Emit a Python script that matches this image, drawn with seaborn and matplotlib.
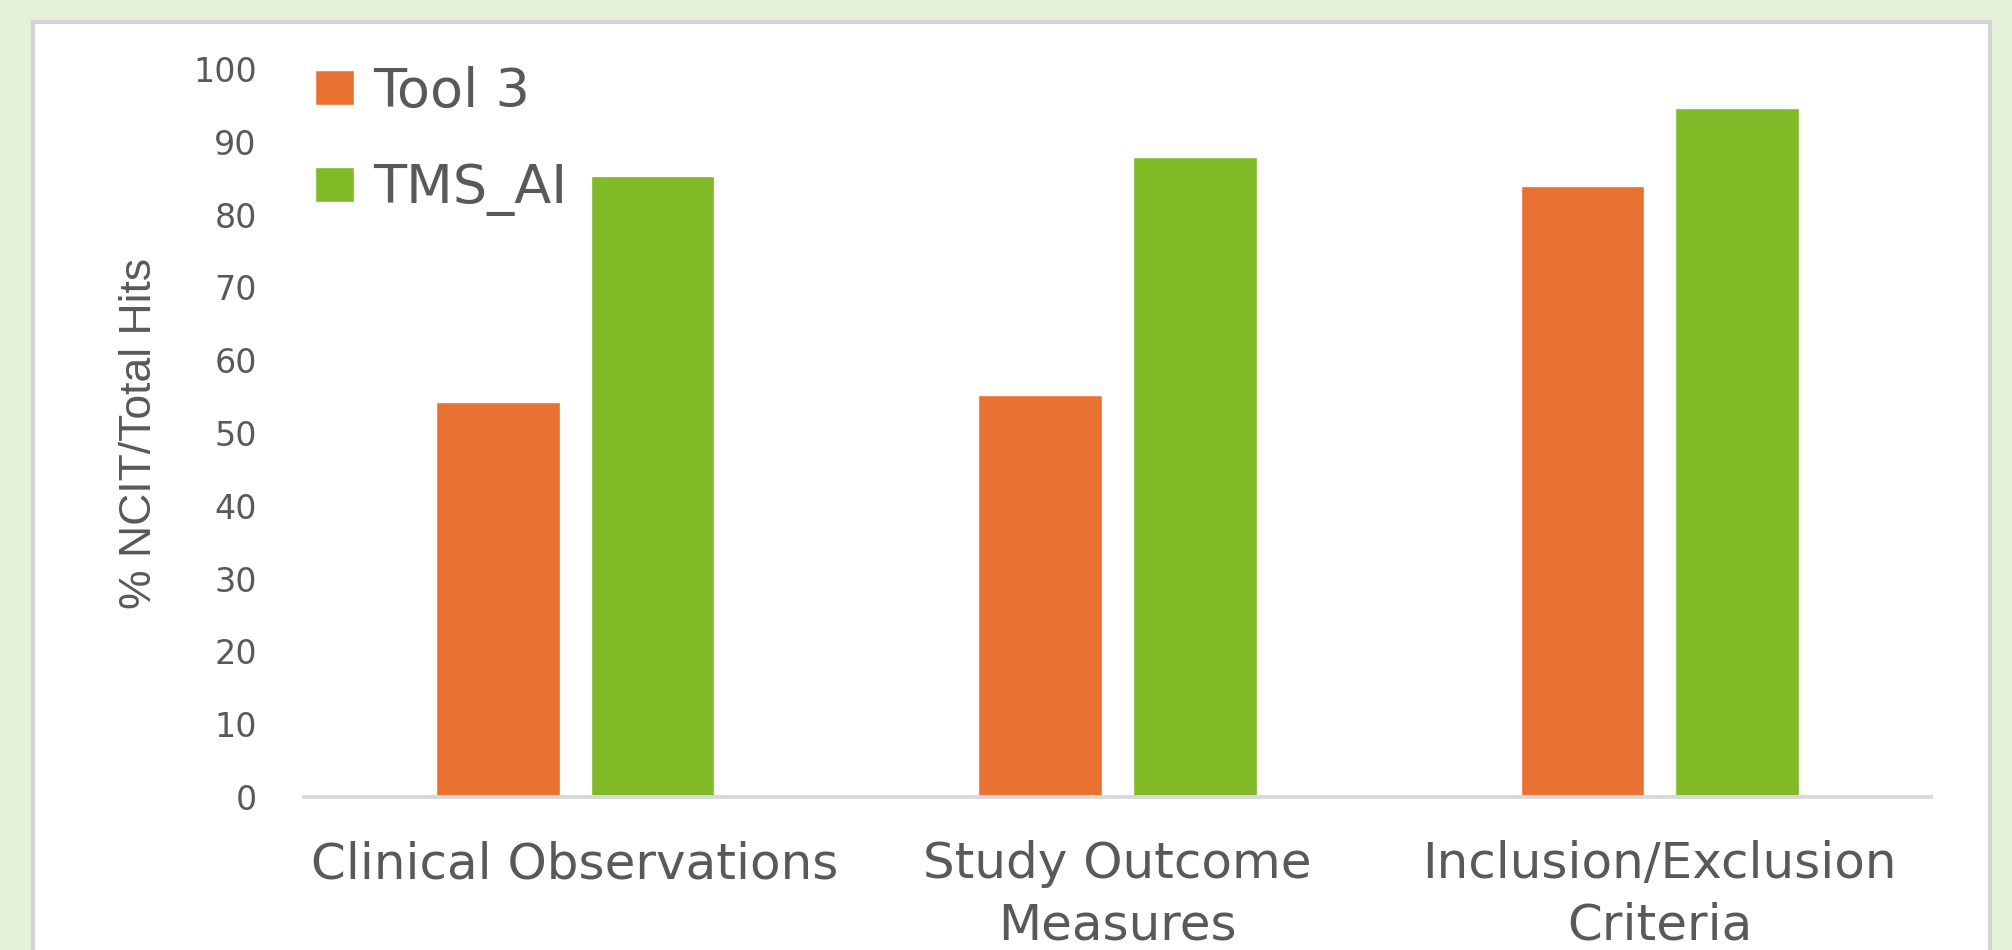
import matplotlib
matplotlib.use("Agg")
import matplotlib.pyplot as plt
from matplotlib.patches import Rectangle
import pandas as pd
import seaborn as sns

# Share of NCIT hits among all hits, per text section and tool
categories = ["Clinical Observations", "Study Outcome\nMeasures", "Inclusion/Exclusion\nCriteria"]
series_names = ["Tool 3", "TMS_AI"]
tool3_values = [54.3, 55.2, 83.9]
tms_ai_values = [85.3, 87.9, 94.6]
y_ticks = [0, 10, 20, 30, 40, 50, 60, 70, 80, 90, 100]

palette = {"Tool 3": "#E97132", "TMS_AI": "#80BA27"}
text_color = "#595959"

df = pd.DataFrame({
    "category": categories * 2,
    "tool": [series_names[0]] * len(categories) + [series_names[1]] * len(categories),
    "value": tool3_values + tms_ai_values,
})

sns.set_theme(style="white")
plt.rcParams["font.family"] = ["DejaVu Sans"]

W, H = 2012, 950
fig = plt.figure(figsize=(W / 100, H / 100), dpi=100, facecolor="#E5F1DB")

# white card with a grey border behind the chart
card = Rectangle((33 / W, -0.05), (1990 - 33) / W, (H - 22) / H + 0.05,
                 transform=fig.transFigure, facecolor="white",
                 edgecolor="#D4D4D4", linewidth=3, zorder=-10)
fig.patches.append(card)

ax = fig.add_axes([304 / W, 1 - 797 / H, (1931 - 304) / W, (797 - 69) / H])
ax.set_facecolor("none")

sns.barplot(data=df, x="category", y="value", hue="tool", palette=palette,
            hue_order=series_names, order=categories, width=0.57, gap=0.2,
            saturation=1, ax=ax, legend=True)

ax.set_xlim(-0.5, len(categories) - 0.5)
ax.set_ylim(0, 100)
ax.set_yticks(y_ticks)
ax.tick_params(axis="y", length=0, pad=34, labelsize=24, labelcolor=text_color)
ax.tick_params(axis="x", length=0, pad=31, labelsize=36, labelcolor=text_color)
for lbl in ax.get_xticklabels():
    lbl.set_linespacing(1.36)

for side in ["top", "right", "left"]:
    ax.spines[side].set_visible(False)
ax.spines["bottom"].set_color("#D9D9D9")
ax.spines["bottom"].set_linewidth(2.8)

ax.set_xlabel("")
ax.set_ylabel("% NCIT/Total Hits", fontsize=32, color=text_color,
              family=["Liberation Sans", "DejaVu Sans"], labelpad=24)

handles, labels = ax.get_legend_handles_labels()
ax.legend(handles, labels, loc="upper left", bbox_to_anchor=(315 / W, 1 - 66 / H),
          bbox_transform=fig.transFigure, frameon=False, fontsize=39,
          labelcolor=text_color, handlelength=0.72, handleheight=0.62,
          handletextpad=0.35, labelspacing=0.82, borderpad=0, borderaxespad=0)

fig.savefig("out.png", dpi=100, facecolor=fig.get_facecolor())
